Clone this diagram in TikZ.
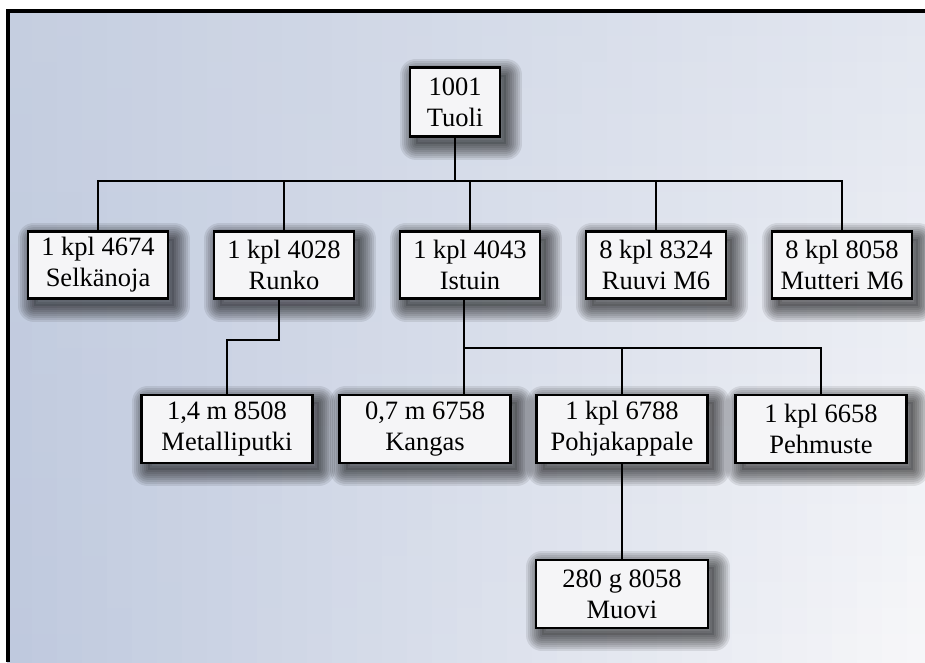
\documentclass[tikz,border=0pt]{standalone}
\usepackage{fontspec}
\setmainfont{Liberation Serif}
\definecolor{bgUL}{HTML}{C5CEE0}
\definecolor{bgLL}{HTML}{BFC9DE}
\definecolor{bgUR}{HTML}{E3E7F0}
\definecolor{bgLR}{HTML}{F7F7F9}
\definecolor{boxfill}{HTML}{F5F5F7}
\tikzset{
  halo/.style={preaction={draw=black, draw opacity=0.085, line width=#1, line join=round,
      transform canvas={shift={(6pt,-7pt)}}}},
  part/.style={draw=black, line width=2.8pt, fill=boxfill, align=center,
    inner sep=0pt, font=\fontsize{26.5}{31}\selectfont,
    preaction={fill=black, fill opacity=0.12, transform canvas={shift={(6pt,-7pt)}}},
    halo=4pt, halo=8pt, halo=12pt, halo=16pt, halo=20pt, halo=24pt, halo=28pt, halo=32pt},
  link/.style={draw=black, line width=2.6pt}
}
\begin{document}
\begin{tikzpicture}[x=1pt,y=-1pt]
\useasboundingbox (0,0) rectangle (925,662);
\fill[white] (0,0) rectangle (925,662);
\foreach \i in {0,...,36}{
  \foreach \j in {0,...,25}{
    \pgfmathsetmacro{\u}{\i*100/36}
    \pgfmathsetmacro{\v}{\j*100/25}
    \colorlet{ctop}{bgUR!\u!bgUL}
    \colorlet{cbot}{bgLR!\u!bgLL}
    \colorlet{cc}{cbot!\v!ctop}
    \fill[cc] ({7+\i*25},{10+\j*26}) rectangle ({7+\i*25+26},{10+\j*26+27});
  }
}
\fill[white] (0,0) rectangle (925,9);
\draw[line width=4pt] (925,11) -- (7.5,11) -- (7.5,662);

\node[part, minimum width=90pt, minimum height=69pt] (tuoli) at (455,102) {1001\\Tuoli};

\node[part, minimum width=140pt, minimum height=67pt] (selk) at (98,265) {1 kpl 4674\\Selkänoja};
\node[part, minimum width=140pt, minimum height=67pt] (runko) at (284,265) {1 kpl 4028\\Runko};
\node[part, minimum width=140pt, minimum height=67pt] (istuin) at (470,265) {1 kpl 4043\\Istuin};
\node[part, minimum width=140pt, minimum height=67pt] (ruuvi) at (656,265) {8 kpl 8324\\Ruuvi M6};
\node[part, minimum width=140pt, minimum height=67pt] (mutt) at (842,265) {8 kpl 8058\\Mutteri M6};

\node[part, minimum width=171pt, minimum height=68pt] (metal) at (227,429) {1,4 m 8508\\Metalliputki};
\node[part, minimum width=171pt, minimum height=68pt] (kangas) at (425,429) {0,7 m 6758\\Kangas};
\node[part, minimum width=171pt, minimum height=68pt] (pohja) at (622,429) {1 kpl 6788\\Pohjakappale};
\node[part, minimum width=171pt, minimum height=68pt] (pehm) at (821,429) {1 kpl 6658\\Pehmuste};

\node[part, minimum width=172pt, minimum height=68pt] (muovi) at (622,594) {280 g 8058\\Muovi};

\coordinate (bus) at (455,181);
\coordinate (rk) at (279,340);
\coordinate (ib) at (464,348);

\draw[link] (tuoli.south) -- (bus);
\draw[link] (selk.north) |- (bus) -| (mutt.north);
\draw[link] (runko.north) -- (runko.north |- bus);
\draw[link] (istuin.north) -- (istuin.north |- bus);
\draw[link] (ruuvi.north) -- (ruuvi.north |- bus);

\draw[link] (runko.south -| rk) -- (rk) -| (metal.north);
\draw[link] (istuin.south -| ib) -- (ib |- kangas.north);
\draw[link] (ib) -| (pehm.north);
\draw[link] (pohja.north) -- (pohja.north |- ib);
\draw[link] (pohja.south) -- (muovi.north);
\end{tikzpicture}
\end{document}
